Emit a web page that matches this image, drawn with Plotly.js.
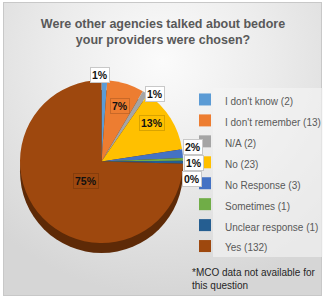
<!DOCTYPE html>
<html><head><meta charset="utf-8">
<script src="https://cdn.plot.ly/plotly-3.0.1.min.js"></script>
<style>
html,body{margin:0;padding:0;}
#wrap{position:relative;width:326px;height:298px;background:#fff;}
#bg{position:absolute;left:3px;top:2px;width:319px;height:294px;border:1px solid #c8c8c8;box-sizing:border-box;
background:radial-gradient(ellipse 75% 80% at 50% 20%, #fbfbfb 0%, #ececec 45%, #d6d6d6 100%);}
#chart{position:absolute;left:0;top:0;width:326px;height:298px;}
</style></head>
<body><div id="wrap"><div id="bg"></div><div id="chart"></div></div>
<script>
const categories = ["I don't know","I don't remember","N/A","No","No Response","Sometimes","Unclear response","Yes"];
const counts = [2,13,2,23,3,1,1,132];
const pctLabels = ["1%","7%","1%","13%","2%","1%","0%","75%"];
const colors = ["#5B9BD5","#ED7D31","#A5A5A5","#FFC000","#4472C4","#70AD47","#255E91","#9E480E"];
const insideIdx = [1,3,7];

const font = "'Liberation Sans',Arial,sans-serif";
const W = 326, H = 298;
const px0 = 20, px1 = 183, py0 = 80, py1 = 243;
const dom = {x:[px0/W, px1/W], y:[1-py1/H, 1-py0/H]};
const cx = (px0+px1)/2;
const depth = 10;

const trace = {
  type:'pie', labels: categories.map((c,i)=>"<span style=\"font-size:10px\">"+c+" ("+counts[i]+")</span>"), values: counts,
  sort:false, direction:'clockwise', rotation:0,
  marker:{colors:colors, line:{width:0}},
  textinfo:'none',
  domain: dom, hoverinfo:'none'
};

// label positions (pixels) for each slice's percentage
const labelPos = [[90,67],[120,98],[155,86],[152,123],[193,147],[194,163],[192,179],[73,181]];
const annotations = labelPos.map((p,i)=>{
  const inside = insideIdx.includes(i);
  return {xref:'paper', yref:'paper', x:p[0]/W, y:1-p[1]/H, text:"<b>"+pctLabels[i]+"</b>",
    showarrow:false, font:{family:font, size:10.5, color:"#111"},
    bgcolor: inside ? colors[i] : "#ffffff", bordercolor: inside ? "rgba(0,0,0,0.15)" : "#c8c8c8",
    borderwidth:1, borderpad:1};
});
annotations.push({xref:'paper', yref:'paper', x:190/W, y:1-265/H, xanchor:'left', yanchor:'top', align:'left',
  text:"*MCO data not available for<br>this question", showarrow:false,
  font:{family:font, size:10, color:"#262626"}});

const layout = {
  width:W, height:H, margin:{l:0,r:0,t:0,b:0},
  paper_bgcolor:'rgba(0,0,0,0)', plot_bgcolor:'rgba(0,0,0,0)',
  title:{text:"<b>Were other agencies talked about bedore<br>your providers were chosen?</b>",
    x:0.5, xanchor:'center', y:1-28/H, yanchor:'middle', font:{family:font, size:12.5, color:"#595959"}},
  showlegend:true,
  legend:{x:1, y:1-84/H, xanchor:'right', yanchor:'top', bgcolor:'rgba(242,242,242,0)',
    font:{family:font, size:13.8, color:"#595959"}},
  shapes:[
    {type:'circle', xref:'paper', yref:'paper', layer:'below',
     x0:dom.x[0], x1:dom.x[1], y0:dom.y[0]-depth/H, y1:dom.y[1]-depth/H,
     fillcolor:'#5e2a07', line:{width:0}},
    {type:'rect', xref:'paper', yref:'paper', layer:'below',
     x0:213/W, x1:323/W, y0:1-257/H, y1:1-88/H, fillcolor:'rgba(245,245,245,0.6)', line:{width:0}},
    {type:'line', xref:'paper', yref:'paper', x0:(cx-3)/W, y0:1-73/H, x1:cx/W, y1:1-81/H,
     line:{color:'#999', width:1}}
  ],
  annotations: annotations
};
Plotly.newPlot('chart',[trace],layout,{displayModeBar:false, staticPlot:true});
</script></body></html>
